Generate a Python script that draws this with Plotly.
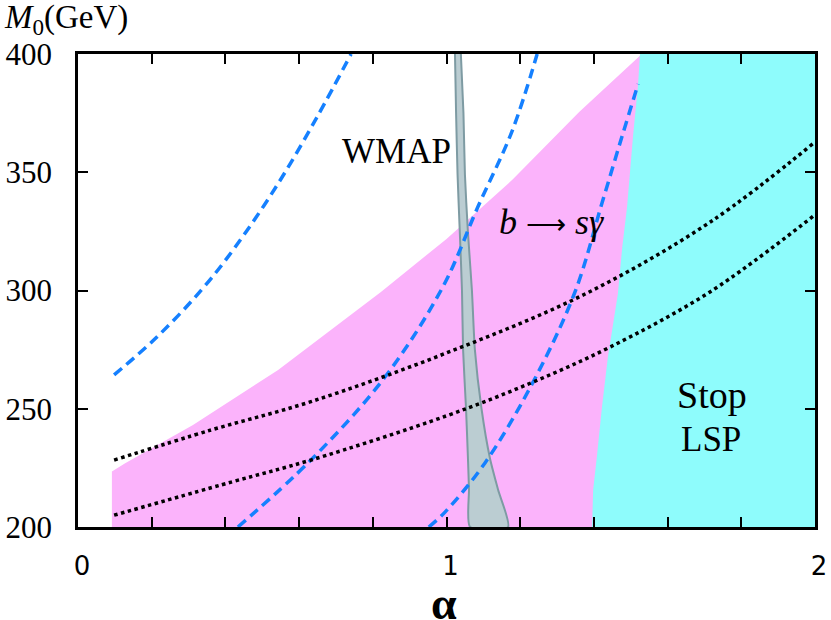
import plotly.graph_objects as go

# ---- data (alpha, M0 in GeV) ----
pink_alpha = [0.092, 0.092, 0.128, 0.312, 0.543, 0.822, 1.0, 1.18, 1.36, 1.53, 1.60, 1.60]
pink_m0 = [200, 223.5, 227, 243.1, 266.4, 299.4, 321.8, 347, 375.5, 400, 400, 200]

cyan_alpha = [1.395, 1.398, 1.408, 1.422, 1.438, 1.452, 1.465, 1.477, 1.490, 1.506, 1.520, 1.525, 2.0, 2.0]
cyan_m0 = [200, 215.7, 229.6, 250.8, 271.9, 286.3, 298.5, 318.4, 335.3, 364.9, 387.3, 400, 400, 200]

wmap_alpha = [1.023, 1.026, 1.030, 1.036, 1.042, 1.045, 1.053, 1.058, 1.061, 1.064,
              1.167, 1.140, 1.118, 1.095, 1.077, 1.069, 1.058, 1.050, 1.046, 1.039]
wmap_m0 = [400, 375, 349, 325, 300, 275, 250, 230, 216, 200,
           200, 215.7, 229, 250, 275, 300, 325, 349, 375, 400]

blue1_alpha = [0.098, 0.212, 0.331, 0.425, 0.543, 0.651, 0.741]
blue1_m0 = [264.3, 280, 299.5, 318, 345.2, 374, 400]

blue2_alpha = [0.434, 0.632, 0.833, 0.990, 1.085, 1.178, 1.246]
blue2_m0 = [200, 228.3, 263.4, 301.5, 335.3, 367.4, 400]

blue3_alpha = [0.952, 0.996, 1.104, 1.235, 1.349, 1.422, 1.476, 1.520]
blue3_m0 = [200, 206.3, 227, 261.3, 299.5, 337, 365, 387.3]

dot1_alpha = [0.098, 0.361, 0.632, 1.0, 1.376, 1.72, 2.0]
dot1_m0 = [228.3, 241, 253, 273.6, 298.5, 329.4, 362.8]

dot2_alpha = [0.098, 0.416, 0.632, 1.0, 1.235, 1.444, 1.715, 2.0]
dot2_m0 = [205, 219, 228.3, 247, 261.3, 276.1, 299.4, 332]

x_tickvals = [0, 0.2, 0.4, 0.6, 0.8, 1.0, 1.2, 1.4, 1.6, 1.8, 2.0]
x_ticktext = ["0", "", "", "", "", "1", "", "", "", "", "2"]
y_tickvals = [200, 250, 300, 350, 400]
y_ticktext = ["200", "250", "300", "350", "400"]

PINK = "#FBB3FB"
CYAN = "#8EFCFC"
GRAY = "#BBCDD2"
GRAY_EDGE = "#7E9BA3"
BLUE = "#1580FF"
SERIF = "Liberation Serif"

fig = go.Figure()
fig.add_trace(go.Scatter(x=pink_alpha, y=pink_m0, fill="toself", fillcolor=PINK,
                         mode="lines", line=dict(width=0, color=PINK), hoverinfo="skip"))
fig.add_trace(go.Scatter(x=cyan_alpha, y=cyan_m0, fill="toself", fillcolor=CYAN,
                         mode="lines", line=dict(width=0, color=CYAN), hoverinfo="skip"))
fig.add_trace(go.Scatter(x=wmap_alpha, y=wmap_m0, fill="toself", fillcolor=GRAY,
                         mode="lines", line=dict(width=2, color=GRAY_EDGE, shape="spline", smoothing=0.6),
                         hoverinfo="skip"))
for xa, ya in [(blue1_alpha, blue1_m0), (blue2_alpha, blue2_m0), (blue3_alpha, blue3_m0)]:
    fig.add_trace(go.Scatter(x=xa, y=ya, mode="lines", line_shape="spline",
                             line=dict(color=BLUE, width=3.5, dash="10px,6px")))
for xa, ya in [(dot1_alpha, dot1_m0), (dot2_alpha, dot2_m0)]:
    fig.add_trace(go.Scatter(x=xa, y=ya, mode="lines", line_shape="spline",
                             line=dict(color="black", width=3.5, dash="3.5px,3.5px")))

ann_font = dict(family=SERIF, size=35, color="black")
fig.add_annotation(x=0.863, y=358.6, text="WMAP", showarrow=False, font=ann_font)
fig.add_annotation(x=1.284, y=329,
                   text="<i>b</i> <span style='font-size:28px'>\u27f6</span> <i>s\u03b3</i>",
                   showarrow=False, font=dict(family=SERIF, size=36, color="black"))
fig.add_annotation(x=1.72, y=256, text="Stop", showarrow=False, font=dict(family=SERIF, size=38, color="black"))
fig.add_annotation(x=1.718, y=237, text="LSP", showarrow=False, font=dict(family=SERIF, size=35, color="black"))

fig.add_annotation(xref="paper", yref="paper", x=-0.103, y=1.072, xanchor="left", yanchor="middle",
                   text="<i>M</i><sub>0</sub>(GeV)", showarrow=False,
                   font=dict(family=SERIF, size=33, color="black"))
fig.add_annotation(xref="paper", yref="paper", x=0.4966, y=-0.161, xanchor="center", yanchor="middle",
                   text="<b>\u03b1</b>", showarrow=False,
                   font=dict(family=SERIF, size=46, color="black"))

fig.update_layout(
    width=831, height=620,
    margin=dict(l=78, r=16, t=54, b=93, autoexpand=False),
    paper_bgcolor="white", plot_bgcolor="white",
    showlegend=False,
)
fig.update_xaxes(range=[0, 2], tickvals=x_tickvals, ticktext=x_ticktext, automargin=False,
                 showgrid=False, zeroline=False, showline=True, linecolor="black", linewidth=2.5,
                 mirror="ticks", ticks="inside", ticklen=10, tickwidth=2, tickcolor="black",
                 tickfont=dict(family="DejaVu Sans", size=26, color="black"),
                 ticklabelstandoff=14, ticklabelshift=4)
fig.update_yaxes(range=[200, 400], tickvals=y_tickvals, ticktext=y_ticktext, automargin=False,
                 showgrid=False, zeroline=False, showline=True, linecolor="black", linewidth=2.5,
                 mirror="ticks", ticks="inside", ticklen=10, tickwidth=2, tickcolor="black",
                 tickfont=dict(family=SERIF, size=31, color="black"),
                 ticklabelstandoff=17)

fig.write_html("out.html", config={"displayModeBar": False},
               post_script="document.body.style.margin='0';document.body.style.padding='0';")
